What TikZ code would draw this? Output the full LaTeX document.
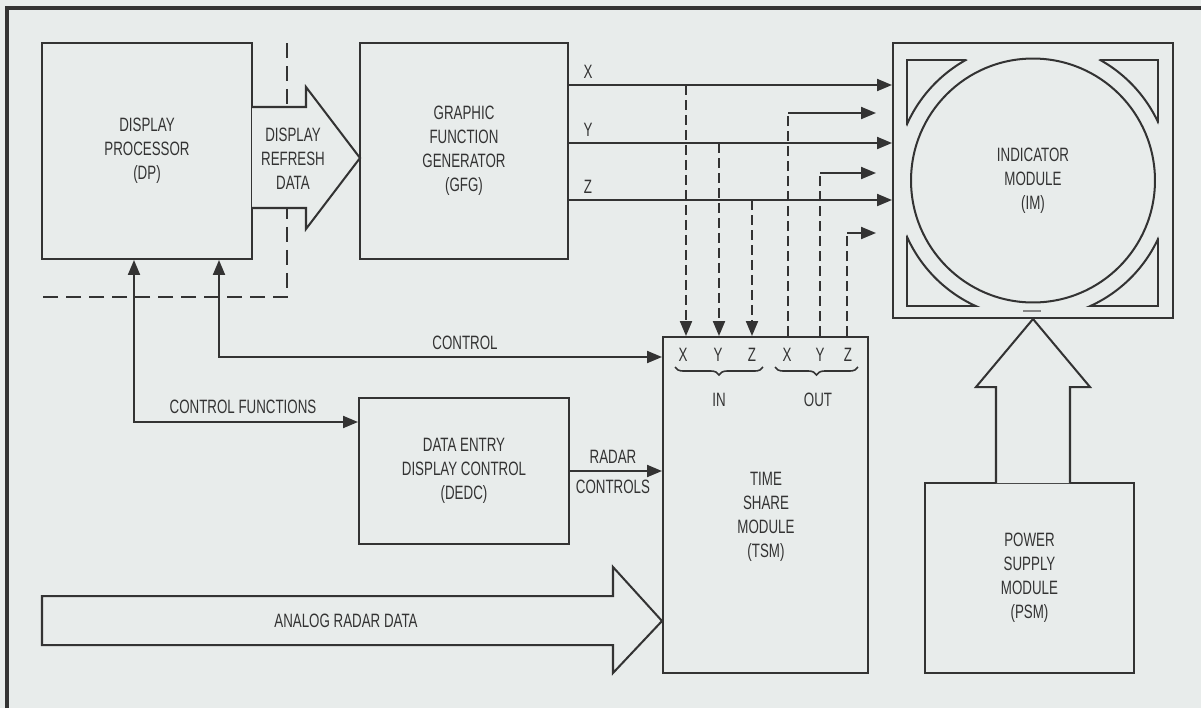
\documentclass[tikz,border=0pt]{standalone}
\usepackage{fontspec}
\setmainfont{Liberation Sans}[FakeStretch=0.69]
\usetikzlibrary{arrows.meta,decorations.pathreplacing}
\definecolor{paper}{HTML}{E8ECEB}
\definecolor{ink}{HTML}{333333}

\begin{document}
\begin{tikzpicture}[x=0.02cm, y=-0.02cm,
  every node/.style={text=ink, font=\fontsize{11}{13.6}\selectfont},
  box/.style={draw=ink, line width=1.15pt, align=center, inner sep=0pt},
  lbl/.style={align=center, inner sep=0pt},
  sig/.style={draw=ink, line width=1.15pt, -{Triangle[length=0.3cm,width=0.24cm]}},
  sigboth/.style={draw=ink, line width=1.15pt, {Triangle[length=0.3cm,width=0.24cm]}-{Triangle[length=0.3cm,width=0.24cm]}},
  dsig/.style={sig, dash pattern=on 0.2cm off 0.1cm},
  dline/.style={draw=ink, line width=1.15pt, dash pattern=on 0.2cm off 0.1cm},
  fatarrow/.style={draw=ink, line width=1.15pt, fill=paper, line join=miter},
  border/.style={draw=ink, line width=1.15pt, dash pattern=on 0.3cm off 0.16cm},
  brc/.style={draw=ink, line width=0.9pt, decorate, decoration={brace, mirror, amplitude=0.16cm}}
]
  \fill[paper] (0,0) rectangle (1201,708);
  \useasboundingbox (0,0) rectangle (1201,708);
  \draw[ink, line width=1.9pt] (7,708) -- (7,8) -- (1201,8);

  % boxes
  \node[box, minimum width=4.2cm, minimum height=4.32cm] (dp) at (147,151) {DISPLAY\\PROCESSOR\\(DP)};
  \node[box, minimum width=4.16cm, minimum height=4.32cm] (gfg) at (464,151) {GRAPHIC\\FUNCTION\\GENERATOR\\(GFG)};
  \node[box, minimum width=4.2cm, minimum height=2.92cm] (dedc) at (464,471) {DATA ENTRY\\DISPLAY CONTROL\\(DEDC)};
  \node[box, minimum width=4.1cm, minimum height=6.72cm] (tsm) at (765.5,505) {};
  \node[lbl] (tsmtext) at (766,517) {TIME\\SHARE\\MODULE\\(TSM)};
  \node[box, minimum width=5.6cm, minimum height=5.5cm] (im) at (1033,180.5) {INDICATOR\\MODULE\\(IM)};
  \node[box, minimum width=4.18cm, minimum height=3.8cm] (psm) at (1029.5,578) {POWER\\SUPPLY\\MODULE\\(PSM)};

  % indicator face
  \draw[ink, line width=1.15pt] (im.center) circle (2.44cm);
  \begin{scope}[even odd rule]
    \clip (893,43) rectangle (1173,318) (im.center) circle (2.76cm);
    \draw[ink, line width=1.15pt] (907,60) rectangle (1158,306);
  \end{scope}
  \begin{scope}
    \clip (907,60) rectangle (1158,306);
    \draw[ink, line width=1.15pt] (im.center) circle (2.76cm);
  \end{scope}
  \draw[ink!60, line width=0.8pt] (1023,311) -- (1041,311);

  % dashed boundary round DP
  \draw[border] (287,43) -- (287,297) -- (43,297);

  % refresh data
  \draw[fatarrow] (252,107) -- (306,107) -- (306,87) -- (360,158) -- (306,229) -- (306,208) -- (252,208);
  \node[lbl] (drd) at (293,159) {DISPLAY\\REFRESH\\DATA};

  % X Y Z to IM
  \coordinate (xin) at (686,85);
  \coordinate (yin) at (719,143);
  \coordinate (zin) at (752,200);
  \draw[sig] (gfg.east |- xin) -- (xin -| im.west);
  \draw[sig] (gfg.east |- yin) -- (yin -| im.west);
  \draw[sig] (gfg.east |- zin) -- (zin -| im.west);
  \node (xl) at (588,72) {X};
  \node (yl) at (588,130) {Y};
  \node (zl) at (588,187) {Z};

  % into TSM
  \draw[dsig] (xin) -- (xin |- tsm.north);
  \draw[dsig] (yin) -- (yin |- tsm.north);
  \draw[dsig] (zin) -- (zin |- tsm.north);

  % out of TSM
  \coordinate (xout) at (788,113);
  \coordinate (yout) at (820,173);
  \coordinate (zout) at (847,233);
  \draw[dline] (xout |- tsm.north) -- (xout);
  \draw[dline] (yout |- tsm.north) -- (yout);
  \draw[dline] (zout |- tsm.north) -- (zout);
  \draw[sig] (xout) -- ([xshift=-0.32cm]xout -| im.west);
  \draw[sig] (yout) -- ([xshift=-0.32cm]yout -| im.west);
  \draw[sig] (zout) -- ([xshift=-0.32cm]zout -| im.west);

  % TSM ports
  \node (tx1) at (683,355) {X};
  \node (ty1) at (718,355) {Y};
  \node (tz1) at (752,355) {Z};
  \node (tx2) at (787,355) {X};
  \node (ty2) at (820,355) {Y};
  \node (tz2) at (848,355) {Z};
  \draw[brc] (675,367) -- (763,367);
  \draw[brc] (775,367) -- (858,367);
  \node (inl) at (719,400) {IN};
  \node (outl) at (818,400) {OUT};

  % control lines
  \coordinate (ctl) at (219,357);
  \draw[sigboth] (ctl |- dp.south) |- (ctl -| tsm.west);
  \node (ctll) at (465,343) {CONTROL};
  \coordinate (cfn) at (134,422);
  \draw[sigboth] (cfn |- dp.south) |- (cfn -| dedc.west);
  \node (cfnl) at (243,407) {CONTROL FUNCTIONS};
  \draw[sig] (dedc.east) -- (dedc.east -| tsm.west);
  \node (rcl1) at (613,457) {RADAR};
  \node (rcl2) at (613,487) {CONTROLS};

  % analog radar data
  \draw[fatarrow] (42,596) -- (613,596) -- (613,567) -- (662,621) -- (613,673) -- (613,645) -- (42,645) -- cycle;
  \node (ard) at (346,621) {ANALOG RADAR DATA};

  % power
  \draw[fatarrow] (996,483) -- (996,387) -- (976,387) -- (im.south) -- (1090,387) -- (1070,387) -- (1070,483);
\end{tikzpicture}
\end{document}
